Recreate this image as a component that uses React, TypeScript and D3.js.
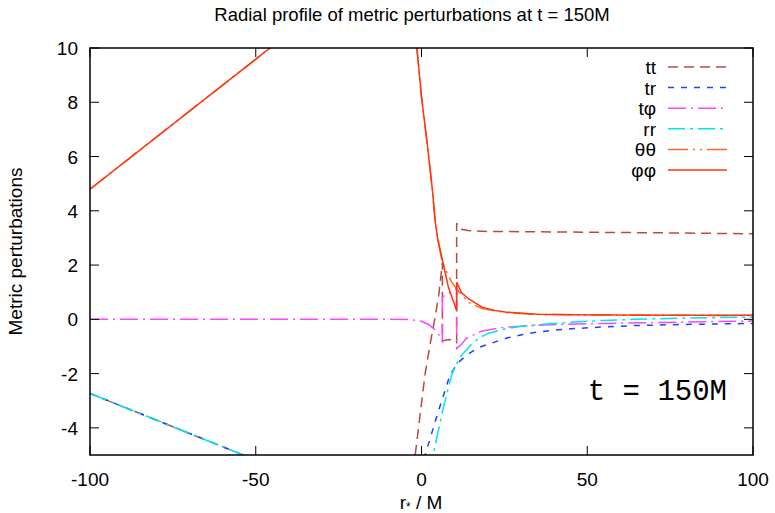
import React from 'react';
import * as d3 from 'd3';

// ---- data (r*/M, value) ----
const xTicks = [-100, -50, 0, 50, 100];
const yTicks = [-4, -2, 0, 2, 4, 6, 8, 10];
const seriesNames = ['tt', 'tr', 'tφ', 'rr', 'θθ', 'φφ'];

const ttData: [number, number][] = [
  [-100, -2.73], [-53.8, -5], [-40, -5.7], [-10, -7], [-3, -6.1], [-1.9, -5], [-0.5, -3.6],
  [1.1, -2.0], [2.1, -1.27], [3, -0.65], [4.1, 0.08], [5.2, 0.9], [6.0, 1.75], [6.3, 2.1],
  [6.3, -0.8], [7.5, -0.76], [8.5, -0.74], [9.5, -0.8], [10.6, -0.86],
  [10.6, 3.55], [11, 3.42], [12, 3.32], [14, 3.27], [20, 3.24], [40, 3.22], [60, 3.2], [80, 3.18], [100, 3.15],
];
const trData: [number, number][] = [
  [-100, -2.73], [-53.8, -5], [-30, -6.2], [-5, -7], [0, -5.6], [1.1, -5], [4.8, -3.5], [8.6, -2.05],
  [11, -1.6], [13.8, -1.3], [17, -1.05], [22, -0.84], [26, -0.68], [30.5, -0.56], [35, -0.47],
  [40, -0.4], [46, -0.34], [55, -0.28], [64, -0.23], [75, -0.2], [84, -0.18], [100, -0.15],
];
const tphiData: [number, number][] = [
  [-100, 0], [-10, 0], [-4, -0.01], [-2, -0.03], [0, -0.07], [2, -0.18], [3.6, -0.33], [5, -0.52], [6.3, -0.8],
  [6.3, 0.83], [10.6, 1.13],
  [10.6, -1.08], [12.2, -0.9], [13.5, -0.7], [16, -0.56], [18, -0.44], [25, -0.29], [35, -0.22],
  [46, -0.17], [55, -0.15], [70, -0.12], [85, -0.09], [100, -0.06],
];
const rrData: [number, number][] = [
  [-100, -2.73], [-53.8, -5], [-30, -6.2], [0, -7], [3.5, -5], [6.5, -3.3], [9.2, -2.0], [11.3, -1.45],
  [13, -1.2], [15.2, -0.9], [17.5, -0.68], [20, -0.52], [25, -0.36], [30.5, -0.25], [40, -0.15],
  [46, -0.1], [55, -0.04], [64, 0.0], [80, 0.05], [100, 0.08],
];
const ththData: [number, number][] = [
  [-100, 4.8], [-45.7, 10], [-30, 11.5], [-5, 13], [-2, 10.8], [-1.4, 10], [0, 8.2], [1.6, 6.6],
  [3.3, 4.76], [4.1, 3.65], [4.9, 2.95], [6.1, 2.2], [7, 1.9], [8.1, 1.62], [9.1, 1.38], [10.6, 1.12],
  [12.2, 0.89], [14, 0.63], [18.3, 0.4], [25, 0.25], [35, 0.18], [50, 0.16], [75, 0.15], [100, 0.14],
];
const phphData: [number, number][] = [
  [-100, 4.8], [-45.7, 10], [-30, 11.5], [-5, 13], [-2, 10.8], [-1.4, 10], [0, 8.2], [1.6, 6.6],
  [3.3, 4.76], [4.1, 3.65], [4.9, 2.95], [6.1, 2.3], [7, 1.8], [8.1, 1.19], [9.5, 0.7], [10.6, 0.33],
  [10.6, 1.37], [12, 1.0], [14, 0.77], [18.3, 0.45], [22, 0.33], [25.2, 0.27], [35, 0.19], [46, 0.17],
  [60, 0.16], [80, 0.15], [100, 0.15],
];

const allSeries = [ttData, trData, tphiData, rrData, ththData, phphData];
const colors = ['#b84a44', '#2040ff', '#ff44ff', '#00e5ee', '#ff6a20', '#ff3510'];
const dashes = ['10,6', '6,7', '18,5,2,5', '17,5,3,5', '20,5,2,5,2,5', 'none'];

const W = 775;
const H = 513;
const L = 90, R = 753, T = 48, B = 455;

export default function App() {
  const x = d3.scaleLinear().domain([-100, 100]).range([L, R]);
  const y = d3.scaleLinear().domain([-5, 10]).range([B, T]);
  const line = d3.line<[number, number]>().x(d => x(d[0])).y(d => y(d[1])).curve(d3.curveLinear);
  const font = '"Liberation Sans", Arial, Helvetica, sans-serif';
  const tickLen = 9;
  const fs = 19;

  return (
    <svg width={W} height={H} style={{ position: 'absolute', left: 0, top: 0, background: '#fff' }}
      fontFamily={font}>
      <defs>
        <clipPath id="plotclip">
          <rect x={L} y={T} width={R - L} height={B - T} />
        </clipPath>
      </defs>
      <rect x={0} y={0} width={W} height={H} fill="#fff" />
      <text x={412} y={21} textAnchor="middle" fontSize={18.5} fill="#000">
        Radial profile of metric perturbations at t = 150M
      </text>

      {/* series */}
      <g clipPath="url(#plotclip)">
        {allSeries.map((s, i) => (
          <path key={i} d={line(s) || ''} fill="none" stroke={colors[i]} strokeWidth={1.5}
            strokeDasharray={dashes[i] === 'none' ? undefined : dashes[i]} />
        ))}
      </g>

      {/* ticks */}
      {xTicks.map(t => (
        <g key={'x' + t}>
          <line x1={x(t)} x2={x(t)} y1={B} y2={B - tickLen} stroke="#000" strokeWidth={1} />
          <line x1={x(t)} x2={x(t)} y1={T} y2={T + tickLen} stroke="#000" strokeWidth={1} />
          <text x={x(t)} y={B + 31} textAnchor="middle" fontSize={fs}>{t}</text>
        </g>
      ))}
      {yTicks.map(t => (
        <g key={'y' + t}>
          <line x1={L} x2={L + tickLen} y1={y(t)} y2={y(t)} stroke="#000" strokeWidth={1} />
          <line x1={R} x2={R - tickLen} y1={y(t)} y2={y(t)} stroke="#000" strokeWidth={1} />
          <text x={78} y={y(t) + 7} textAnchor="end" fontSize={fs}>{t}</text>
        </g>
      ))}
      <rect x={L} y={T} width={R - L} height={B - T} fill="none" stroke="#000" strokeWidth={1.5} />

      {/* legend */}
      {seriesNames.map((n, i) => {
        const ly = 67 + i * 20.6;
        return (
          <g key={n}>
            <text x={656} y={ly + 7} textAnchor="end" fontSize={fs}>{n}</text>
            <line x1={668} x2={727} y1={ly} y2={ly} stroke={colors[i]} strokeWidth={1.5}
              strokeDasharray={dashes[i] === 'none' ? undefined : dashes[i]} />
          </g>
        );
      })}

      <text x={727} y={400} textAnchor="end" fontSize={29}
        fontFamily='"Liberation Mono", "DejaVu Sans Mono", monospace'>t = 150M</text>

      {/* axis labels */}
      <text x={421} y={509} textAnchor="middle" fontSize={fs}>
        r<tspan fontSize={12} dy={2}>*</tspan><tspan dy={-2}> / M</tspan>
      </text>
      <text transform={`translate(22, ${(T + B) / 2}) rotate(-90)`} textAnchor="middle" fontSize={fs}>
        Metric perturbations
      </text>
    </svg>
  );
}
